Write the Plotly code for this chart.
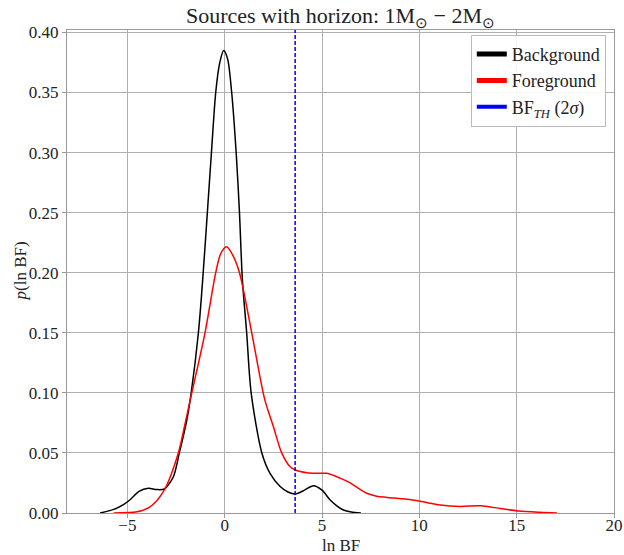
import plotly.graph_objects as go

# Background KDE (ln BF vs density)
bg_x = [-6.4, -5.7, -5.2, -4.86, -4.4, -3.92, -3.5, -3.1, -2.64, -2.33, -1.95, -1.72,
        -1.35, -1.13, -0.89, -0.68, -0.46, -0.25, -0.05, 0.15, 0.36, 0.59, 0.76, 0.91,
        1.13, 1.36, 1.91, 2.33, 2.85, 3.25, 3.63, 4.1, 4.56, 5.0, 5.42, 5.76, 6.1, 6.5, 7.0]
bg_y = [0.0, 0.003, 0.007, 0.011, 0.018, 0.0205, 0.0195, 0.020, 0.030, 0.050, 0.077, 0.100,
        0.150, 0.194, 0.250, 0.300, 0.350, 0.375, 0.385, 0.378, 0.350, 0.300, 0.250, 0.194,
        0.150, 0.100, 0.050, 0.033, 0.022, 0.0175, 0.0158, 0.019, 0.0227, 0.019, 0.0108, 0.006, 0.0025, 0.0008, 0.0]

# Foreground KDE
fg_x = [-5.7, -4.5, -3.84, -3.15, -2.38, -2.04, -1.69, -1.01, -0.46, -0.2, 0.1, 0.4,
        0.76, 1.39, 2.05, 2.5, 2.93, 3.36, 3.63, 4.22, 4.7, 5.25, 5.93, 6.45, 6.87, 7.3,
        7.8, 8.33, 9.36, 10.05, 11.07, 12.1, 13.13, 14.16, 15.1, 16.2, 17.07]
fg_y = [0.0, 0.001, 0.005, 0.0177, 0.050, 0.074, 0.100, 0.150, 0.200, 0.216, 0.2215, 0.215,
        0.200, 0.150, 0.095, 0.072, 0.050, 0.0385, 0.0358, 0.0335, 0.033, 0.033, 0.029, 0.025, 0.0205, 0.0164,
        0.014, 0.013, 0.0114, 0.0097, 0.0067, 0.0055, 0.006, 0.0037, 0.0017, 0.0006, 0.0]

threshold = 3.62

series_names = ["Background", "Foreground", "BF<sub><i>TH</i></sub> (2<i>σ</i>)"]
series_colors = ["black", "red", "blue"]

FONT = "Liberation Serif"
GRID = "#b0b0b0"
TXT = "#222222"

fig = go.Figure()
fig.add_trace(go.Scatter(x=bg_x, y=bg_y, mode="lines",
                         line=dict(color="black", width=1.5, shape="spline", smoothing=0.8),
                         showlegend=False, hoverinfo="skip"))
fig.add_trace(go.Scatter(x=fg_x, y=fg_y, mode="lines",
                         line=dict(color="red", width=1.5, shape="spline", smoothing=0.8),
                         showlegend=False, hoverinfo="skip"))
fig.add_vline(x=threshold, line=dict(color="blue", width=1.5, dash="4px,2px"))

# legend entries
for name, col in zip(series_names, series_colors):
    fig.add_trace(go.Scatter(x=[None], y=[None], mode="lines", name=name,
                             line=dict(color=col, width=5 if col != "blue" else 4)))

axis_common = dict(showgrid=True, gridcolor=GRID, gridwidth=1, zeroline=False,
                   showline=True, linecolor="#999999", linewidth=1, mirror=True,
                   ticks="outside", ticklen=4, tickcolor="#999999", automargin=False,
                   tickfont=dict(family=FONT, size=17, color=TXT))

fig.update_layout(
    width=624, height=555,
    margin=dict(l=67, r=10, t=30, b=42),
    plot_bgcolor="white", paper_bgcolor="white",
    title=dict(text="Sources with horizon: 1M<sub>⊙</sub> − 2M<sub>⊙</sub>",
               xref="paper", x=0.5, xanchor="center", y=0.972, yanchor="middle",
               font=dict(family=FONT, size=22, color=TXT)),
    xaxis=dict(range=[-8.1, 20], dtick=5, tick0=0, ticklabelstandoff=-7, **axis_common),
    yaxis=dict(range=[0, 0.402], dtick=0.05, tick0=0, tickformat=".2f", **axis_common),
    legend=dict(x=0.985, y=0.99, xanchor="right", yanchor="top",
                bgcolor="rgba(255,255,255,0.9)", bordercolor="#bbbbbb", borderwidth=1,
                font=dict(family=FONT, size=18, color=TXT), itemwidth=30,
                tracegroupgap=0),
)

fig.add_annotation(text="ln BF", xref="paper", yref="paper", x=0.5, y=0,
                   xanchor="center", yanchor="middle", yshift=-32, showarrow=False,
                   font=dict(family=FONT, size=17, color=TXT))
fig.add_annotation(text="<i>p</i>(ln BF)", xref="paper", yref="paper", x=0, y=0.5,
                   xanchor="center", yanchor="middle", xshift=-47, textangle=-90, showarrow=False,
                   font=dict(family=FONT, size=17, color=TXT))

fig.write_html("out.html", config={"displayModeBar": False},
               post_script="document.body.style.margin='0px';")
